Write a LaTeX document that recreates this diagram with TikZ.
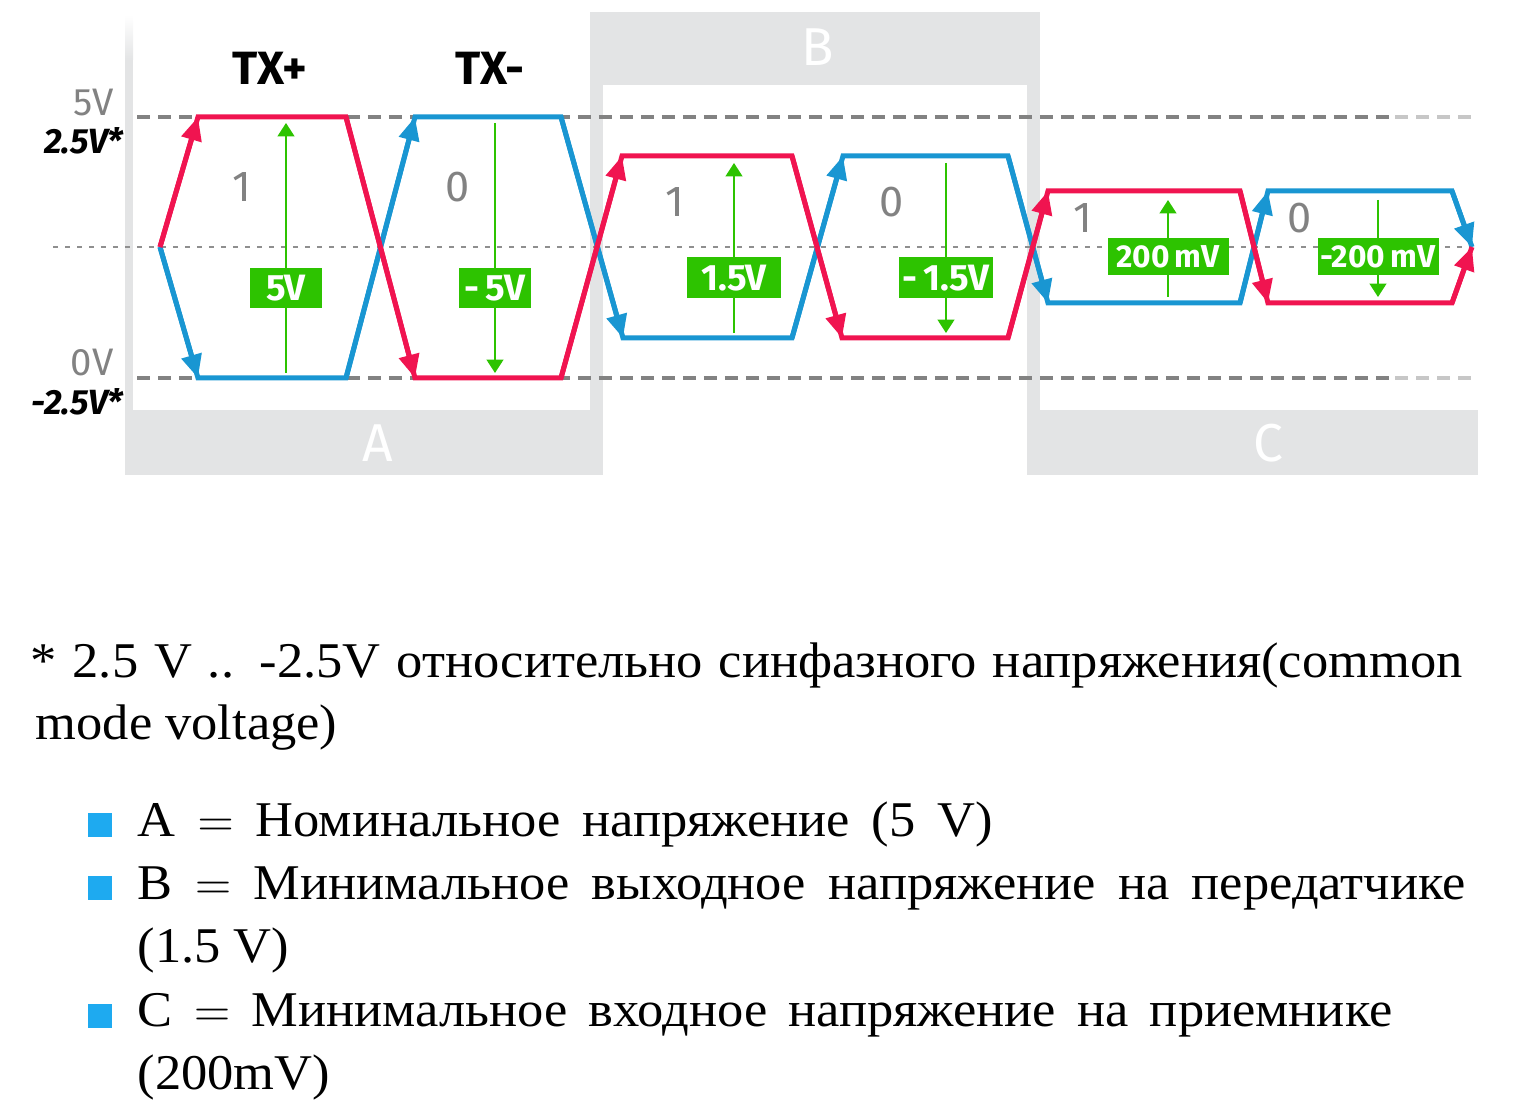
\documentclass[tikz,border=0pt]{standalone}
\usepackage{fontspec}
\setmainfont{Liberation Serif}[FakeStretch=1.05]
\newfontfamily\sigfont{Fira Sans}
\usetikzlibrary{arrows.meta}

\definecolor{txred}{RGB}{240,20,80}
\definecolor{txblue}{RGB}{25,150,210}
\definecolor{vgreen}{RGB}{45,195,0}
\definecolor{regfill}{RGB}{227,228,229}
\definecolor{lvlgray}{RGB}{130,130,130}
\definecolor{bulletblue}{RGB}{30,170,240}

\begin{document}
\begin{tikzpicture}[x=0.3pt, y=-0.3pt,
    sig/.style={line width=1.5pt},
    sigtip/.style={-{Triangle[length=7pt,width=6pt]}},
    meas/.style={vgreen, line width=0.6pt, -{Triangle[length=4pt,width=5pt]}},
    vbox/.style={fill=vgreen, text=white, inner sep=0pt, font=\sigfont\bfseries\fontsize{11}{12}\selectfont},
    lvl/.style={dash pattern=on 3.9pt off 2.4pt, line width=1pt, lvlgray},
    bit/.style={text=lvlgray, font=\sigfont\fontsize{13}{13}\selectfont},
    reg/.style={text=white, font=\sigfont\fontsize{16}{16}\selectfont},
    volt/.style={anchor=east, inner sep=0pt, font=\sigfont\fontsize{11.5}{12}\selectfont},
    cmv/.style={volt, font=\sigfont\bfseries\itshape\fontsize{10.5}{11}\selectfont},
    txt/.style={anchor=base west, inner sep=0pt, font=\fontsize{15}{18}\selectfont},
    bullet/.style={fill=bulletblue, inner sep=0pt, minimum size=7.2pt}]
\useasboundingbox (0,0) rectangle (1533,1116);

% grey regions A, B, C
\fill[regfill] (125,60) rectangle (133,475);
\shade[top color=white, bottom color=regfill] (125,15) rectangle (133,60);
\fill[regfill] (125,410) rectangle (603,475);
\fill[regfill] (590,12) rectangle (1040,475);
\fill[white] (603,85) rectangle (1027,475);
\fill[regfill] (1027,410) rectangle (1478,475);
\node[reg] (regA) at (378,443) {A};
\node[reg] (regB) at (818,47) {B};
\node[reg] (regC) at (1268,443) {C};

% levels
\draw[lvl] (137,117) -- (1395,117);
\draw[lvl, lvlgray!45] (1395,117) -- (1475,117);
\draw[lvl] (137,378) -- (1395,378);
\draw[lvl, lvlgray!45] (1395,378) -- (1475,378);
\draw[lvlgray!90, line width=0.75pt, dash pattern=on 1.6pt off 2pt] (53,247) -- (1470,247);

\node[volt, text=lvlgray] (v5) at (114,103) {5V};
\node[cmv] (v25) at (124,141) {2.5V*};
\node[volt, text=lvlgray] (v0) at (114,363) {0V};
\node[cmv] (vm25) at (124,402) {-2.5V*};

\node[font=\sigfont\bfseries\fontsize{14}{14}\selectfont] (txp) at (270,68) {TX+};
\node[font=\sigfont\bfseries\fontsize{14}{14}\selectfont] (txm) at (490,68) {TX-};

% TX- (blue)
\draw[sig, txblue] (160,247) -- (198,378) -- (346,378) -- (415,117) -- (561,117) -- (623,338) -- (792,338)
    -- (843,156) -- (1008,156) -- (1048,303) -- (1240,303) -- (1268,191) -- (1452,191) -- (1472,247);
\foreach \xa/\ya/\xb/\yb in {160/247/198/378, 346/378/415/117, 561/117/623/338, 792/338/843/156,
    1008/156/1048/303, 1240/303/1268/191, 1452/191/1472/247}
  \draw[sig, txblue, sigtip] (\xa,\ya) -- (\xb,\yb);

% TX+ (red)
\draw[sig, txred] (160,247) -- (198,117) -- (346,117) -- (415,378) -- (561,378) -- (622,156) -- (792,156)
    -- (842,338) -- (1008,338) -- (1048,191) -- (1240,191) -- (1268,303) -- (1452,303) -- (1472,247);
\foreach \xa/\ya/\xb/\yb in {160/247/198/117, 346/117/415/378, 561/378/622/156, 792/156/842/338,
    1008/338/1048/191, 1240/191/1268/303, 1452/303/1472/247}
  \draw[sig, txred, sigtip] (\xa,\ya) -- (\xb,\yb);

% bits
\node[bit] (b1) at (242,187) {1};
\node[bit] (b2) at (458,187) {0};
\node[bit] (b3) at (675,202) {1};
\node[bit] (b4) at (892,202) {0};
\node[bit] (b5) at (1083,218) {1};
\node[bit] (b6) at (1300,218) {0};

% differential voltages
\draw[meas] (286,373) -- (286,123);
\draw[meas] (495,123) -- (495,373);
\draw[meas] (734,333) -- (734,163);
\draw[meas] (946,163) -- (946,333);
\draw[meas] (1168,297) -- (1168,200);
\draw[meas] (1378,200) -- (1378,297);
\node[vbox, minimum width=21.6pt, minimum height=12pt] (dA1) at (286,288) {5V};
\node[vbox, minimum width=21.6pt, minimum height=12pt] (dA2) at (495,288) {-\,5V};
\node[vbox, minimum width=28.2pt, minimum height=12.3pt] (dB1) at (734,278) {1.5V};
\node[vbox, minimum width=28.2pt, minimum height=12.3pt] (dB2) at (946,278) {-\,1.5V};
\node[vbox, minimum width=36.3pt, minimum height=11.1pt, font=\sigfont\bfseries\fontsize{9.5}{10}\selectfont] (dC1) at (1168,257) {200\,mV};
\node[vbox, minimum width=36.3pt, minimum height=11.1pt, font=\sigfont\bfseries\fontsize{9.5}{10}\selectfont] (dC2) at (1378,257) {-200\,mV};

% notes
\node[txt] (note1) at (30,678) {\makebox[429.6pt][s]{* 2.5 V .. -2.5V относительно синфазного напряжения(common}};
\node[txt] (note2) at (35,740) {mode voltage)};
\node[bullet] (bA) at (100,825) {};
\node[bullet] (bB) at (100,888) {};
\node[bullet] (bC) at (100,1016) {};
\node[txt] (itemA) at (137,837) {\makebox[256.5pt][s]{A $=$ Номинальное напряжение (5 V)}};
\node[txt] (itemB) at (137,900) {\makebox[398.4pt][s]{B $=$ Минимальное выходное напряжение на передатчике}};
\node[txt] (itemB2) at (137,963) {(1.5 V)};
\node[txt] (itemC) at (137,1027) {\makebox[376.5pt][s]{C $=$ Минимальное входное напряжение на приемнике}};
\node[txt] (itemC2) at (137,1090) {(200mV)};
\end{tikzpicture}
\end{document}
